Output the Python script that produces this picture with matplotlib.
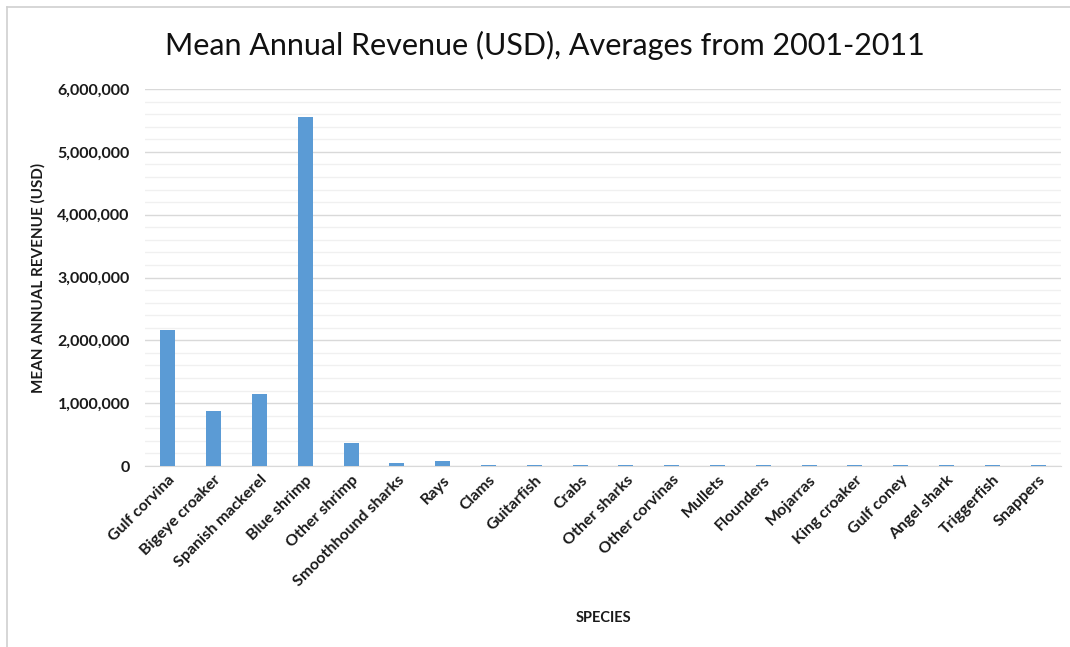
import matplotlib
matplotlib.use("Agg")
import matplotlib.pyplot as plt
from matplotlib.ticker import FuncFormatter, MultipleLocator
from matplotlib.lines import Line2D

species = ["Gulf corvina", "Bigeye croaker", "Spanish mackerel", "Blue shrimp",
           "Other shrimp", "Smoothhound sharks", "Rays", "Clams", "Guitarfish",
           "Crabs", "Other sharks", "Other corvinas", "Mullets", "Flounders",
           "Mojarras", "King croaker", "Gulf coney", "Angel shark", "Triggerfish",
           "Snappers"]
revenue = [2170000, 880000, 1150000, 5550000, 365000, 50000, 75000, 15000, 15000,
           15000, 14000, 14000, 13000, 13000, 12000, 12000, 12000, 12000, 11000,
           11000]

plt.rcParams['font.family'] = ['Lato', 'DejaVu Sans']

fig = plt.figure(figsize=(10.70, 6.47), dpi=100)
ax = fig.add_axes([145/1070, 1-466/647, (1061-145)/1070, (466-89)/647])

x = list(range(len(species)))
ax.bar(x, revenue, width=0.33, color="#5B9BD5", zorder=3)

ax.set_xlim(-0.5, len(species)-0.5)
ax.set_ylim(0, 6000000)
ax.yaxis.set_major_locator(MultipleLocator(1000000))
ax.yaxis.set_minor_locator(MultipleLocator(200000))
ax.yaxis.set_major_formatter(FuncFormatter(lambda v, p: f"{int(v):,}"))
ax.grid(axis='y', which='major', color='#D9D9D9', linewidth=1.0, zorder=0)
ax.grid(axis='y', which='minor', color='#F0F0F0', linewidth=1.0, zorder=0)
for s in ['top', 'right', 'left']:
    ax.spines[s].set_visible(False)
ax.spines['bottom'].set_color('#D9D9D9')
ax.tick_params(axis='both', which='both', length=0)
ax.tick_params(axis='y', pad=11)
ax.tick_params(axis='x', pad=5)
ax.set_xticks(x)
ax.set_xticklabels(species, rotation=45, ha='right', rotation_mode='anchor',
                   fontsize=11.5, fontweight='bold', color='#1a1a1a')
for lab in ax.get_yticklabels():
    lab.set_fontweight('bold')
    lab.set_fontsize(11.5)
    lab.set_color('#1a1a1a')

ax.set_ylabel("MEAN ANNUAL REVENUE (USD)", fontsize=11, fontweight='bold',
              color='#1a1a1a')
ax.yaxis.set_label_coords(-0.109, 0.5)
fig.text(603/1070, 1-618/647, "SPECIES", ha='center', va='center', fontsize=10.5,
         fontweight='bold', color='#1a1a1a')
fig.text(545/1070, 1-45/647, "Mean Annual Revenue (USD), Averages from 2001-2011",
         ha='center', va='center', fontsize=22, color='#111111')

fig.add_artist(Line2D([7/1070, 7/1070], [0, 1-7/647], transform=fig.transFigure,
                      color='#D0D0D0', linewidth=1.2))
fig.add_artist(Line2D([7/1070, 1], [1-7/647, 1-7/647], transform=fig.transFigure,
                      color='#D0D0D0', linewidth=1.2))

fig.savefig("out.png", dpi=100, facecolor='white')
